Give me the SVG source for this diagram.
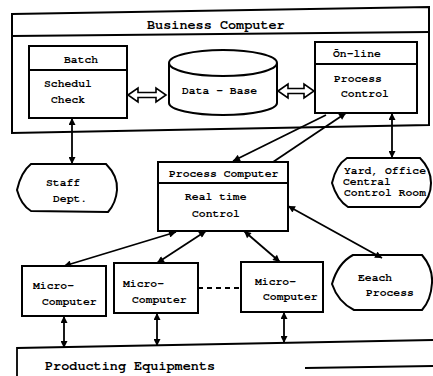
<svg xmlns="http://www.w3.org/2000/svg" width="433" height="376" viewBox="0 0 433 376">
  <style>
    .box { fill: #fff; stroke: #000; stroke-width: 2; }
    .edge { fill: none; stroke: #000; stroke-width: 1.8; }
    .hollow { fill: #fff; stroke: #000; stroke-width: 1.6; stroke-linejoin: miter; }
    text { font-family: "Nimbus Mono PS", "Nimbus Mono L", "FreeMono", "Courier", "Liberation Mono", monospace; font-weight: bold; font-size: 11.4px; fill: #000; }
    .title { font-size: 13.5px; }
    .both { marker-start: url(#head); marker-end: url(#head); }
    .end { marker-end: url(#head); }
  </style>
  <defs>
    <marker id="head" viewBox="0 0 10 10" refX="10" refY="5" markerWidth="9" markerHeight="7" markerUnits="userSpaceOnUse" orient="auto-start-reverse">
      <path d="M0,0 L10,5 L0,10 Z" fill="#000"/>
    </marker>
  </defs>
  <rect width="433" height="376" fill="#fff"/>

  <!-- business computer frame -->
  <g id="business-computer">
    <path class="box" d="M12,14 L429,7 L429,125 L12,133 Z"/>
    <path class="edge" d="M12,36 L429,32"/>
    <text class="title" x="147" y="29">Business Computer</text>
  </g>

  <g id="batch">
    <rect class="box" x="29" y="46" width="98" height="72"/>
    <line class="edge" x1="29" y1="70" x2="127" y2="70"/>
    <text x="64" y="63">Batch</text>
    <text x="44" y="87">Schedul</text>
    <text x="51" y="103">Check</text>
  </g>

  <g id="data-base">
    <path class="box" d="M169,63 L169,103 A54,12 0 0 0 277,103 L277,63"/>
    <ellipse class="box" cx="223" cy="63" rx="54" ry="13"/>
    <text x="182" y="94">Data - Base</text>
  </g>

  <g id="on-line">
    <rect class="box" x="315" y="42" width="102" height="71"/>
    <line class="edge" x1="315" y1="64" x2="417" y2="64"/>
    <text x="333" y="57">Ōn-line</text>
    <text x="334" y="82">Process</text>
    <text x="341" y="97">Control</text>
  </g>

  <g id="staff-dept">
    <path class="box" d="M17,190 Q21,172 31,164 L106,164 Q118,176 117,190 Q116,203 108,212 L31,211 Q21,205 17,190 Z"/>
    <text x="46" y="186">Staff</text>
    <text x="53" y="202">Dept.</text>
  </g>

  <g id="process-computer">
    <rect class="box" x="158" y="162" width="130" height="69"/>
    <line class="edge" x1="158" y1="183" x2="288" y2="183"/>
    <text x="169" y="177">Process Computer</text>
    <text x="185" y="200">Real time</text>
    <text x="192" y="217">Control</text>
  </g>

  <g id="yard-office">
    <path class="box" d="M332,183 Q336,165 347,158 L420,158 Q431,169 431,183 Q431,198 420,207 L348,207 Q337,200 332,183 Z"/>
    <text x="344" y="174">Yard, Office</text>
    <text x="343" y="185">Central</text>
    <text x="344" y="196">Control Room</text>
  </g>

  <g id="micro-1">
    <rect class="box" x="22" y="266" width="84" height="50"/>
    <text x="33" y="289">Micro-</text>
    <text x="42" y="305">Computer</text>
  </g>

  <g id="micro-2">
    <rect class="box" x="114" y="263" width="84" height="50"/>
    <text x="123" y="287">Micro-</text>
    <text x="132" y="303">Computer</text>
  </g>

  <g id="micro-3">
    <rect class="box" x="241" y="262" width="82" height="50"/>
    <text x="255" y="285">Micro-</text>
    <text x="263" y="300">Computer</text>
  </g>

  <g id="each-process">
    <path class="box" d="M332,284 Q338,263 353,255 L422,255 Q433,268 432,283 Q431,300 422,310 L354,310 Q338,302 332,284 Z"/>
    <text x="358" y="281">Eeach</text>
    <text x="366" y="296">Process</text>
  </g>

  <g id="producting-equipments">
    <path class="edge" d="M17,376 L17,348 L433,340"/>
    <path class="edge" d="M305,368 L433,366"/>
    <text class="title" x="45" y="370">Producting Equipments</text>
  </g>

  <!-- connectors -->
  <g id="connectors">
    <path class="hollow" d="M128,95 L138,88 L138,92.5 L156,92.5 L156,88 L166,95 L156,102 L156,97.5 L138,97.5 L138,102 Z"/>
    <path class="hollow" d="M278,91 L288,84 L288,88.5 L304,88.5 L304,84 L314,91 L304,98 L304,93.5 L288,93.5 L288,98 Z"/>
    <line class="edge both" x1="72" y1="118" x2="72" y2="164"/>
    <line class="edge both" x1="392" y1="113" x2="392" y2="158"/>
    <line class="edge end" x1="326" y1="115" x2="233" y2="161"/>
    <line class="edge end" x1="273" y1="162" x2="346" y2="113"/>
    <line class="edge both" x1="288" y1="206" x2="382" y2="258"/>
    <line class="edge both" x1="176" y1="232" x2="64" y2="266"/>
    <line class="edge both" x1="206" y1="231" x2="157" y2="263"/>
    <line class="edge both" x1="244" y1="231" x2="280" y2="262"/>
    <line class="edge both" x1="64" y1="316" x2="64" y2="348"/>
    <line class="edge both" x1="157" y1="313" x2="157" y2="346"/>
    <line class="edge both" x1="284" y1="312" x2="284" y2="343"/>
    <line class="edge" x1="198" y1="288" x2="241" y2="288" stroke-dasharray="5,4"/>
  </g>
</svg>
